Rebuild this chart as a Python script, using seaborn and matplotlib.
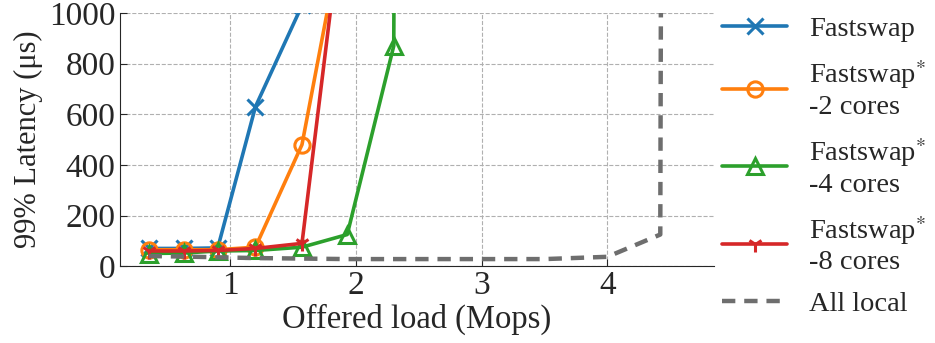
import matplotlib
matplotlib.use("Agg")
import matplotlib.pyplot as plt
import seaborn as sns
import pandas as pd

sns.set_style("ticks")
plt.rcParams['font.family'] = ['Liberation Serif', 'DejaVu Serif']
plt.rcParams['mathtext.fontset'] = 'stix'

# Data (offered load in Mops, 99% latency in us)
x_fast = [0.35, 0.63, 0.9, 1.2, 1.57]
y_fast = [70, 70, 72, 630, 1030]

x_fs2 = [0.35, 0.63, 0.9, 1.2, 1.57, 1.93]
y_fs2 = [65, 65, 65, 75, 480, 1420]

x_fs4 = [0.35, 0.63, 0.9, 1.2, 1.57, 1.93, 2.3, 2.31]
y_fs4 = [50, 52, 60, 62, 75, 125, 870, 2000]

x_fs8 = [0.35, 0.63, 0.9, 1.2, 1.57, 1.93]
y_fs8 = [60, 60, 62, 70, 90, 1550]

x_local = [0.35, 0.63, 0.9, 1.2, 1.57, 1.93, 2.3, 3.0, 3.5, 4.0, 4.42, 4.43]
y_local = [40, 38, 35, 32, 30, 28, 28, 28, 28, 37, 125, 2000]

labels = ["Fastswap", "Fastswap$^{*}$\n-2 cores", "Fastswap$^{*}$\n-4 cores",
          "Fastswap$^{*}$\n-8 cores", "All local"]
colors = ["#1f77b4", "#ff7f0e", "#2ca02c", "#d62728", "#6e6e6e"]
xticks = [1, 2, 3, 4]
yticks = [0, 200, 400, 600, 800, 1000]

fig = plt.figure(figsize=(9.35, 3.43), dpi=100)
ax = fig.add_axes([0.128, 0.224, 0.636, 0.738])

lw = 2.6
series = [
    (x_fast, y_fast, 'x', True),
    (x_fs2, y_fs2, 'o', False),
    (x_fs4, y_fs4, '^', False),
    (x_fs8, y_fs8, '1', True),
]
for i, (xs, ys, mk, filled) in enumerate(series):
    sns.lineplot(x=xs, y=ys, ax=ax, color=colors[i], lw=lw, marker=mk,
                 markersize=11, markeredgewidth=2.2, markeredgecolor=colors[i],
                 markerfacecolor=colors[i] if filled else 'none',
                 label=labels[i], sort=False, estimator=None)
sns.lineplot(x=x_local, y=y_local, ax=ax, color=colors[4], lw=3.2,
             linestyle='--', label=labels[4], sort=False, estimator=None)
ax.lines[-1].set_dashes([3, 2])

ax.set_xlim(0.12, 4.85)
ax.set_ylim(0, 1000)
ax.set_xticks(xticks)
ax.set_yticks(yticks)
ax.grid(True, linestyle='--', color='#b0b0b0', lw=0.8)
ax.set_axisbelow(True)
for s in ['top', 'right']:
    ax.spines[s].set_visible(False)
ax.tick_params(direction='in', labelsize=24, length=5, pad=3)
ax.set_xlabel("Offered load (Mops)", fontsize=23.5, labelpad=2)
ax.set_ylabel("99% Latency (μs)", fontsize=22, labelpad=4)

h, l = ax.get_legend_handles_labels()
ax.get_legend().remove()
fig.legend(h, l, loc='upper left', bbox_to_anchor=(0.760, 0.985), frameon=False,
           fontsize=20.5, handlelength=2.3, handletextpad=0.75, labelspacing=0.56,
           borderaxespad=0.0)

fig.savefig("out.png", dpi=100)
